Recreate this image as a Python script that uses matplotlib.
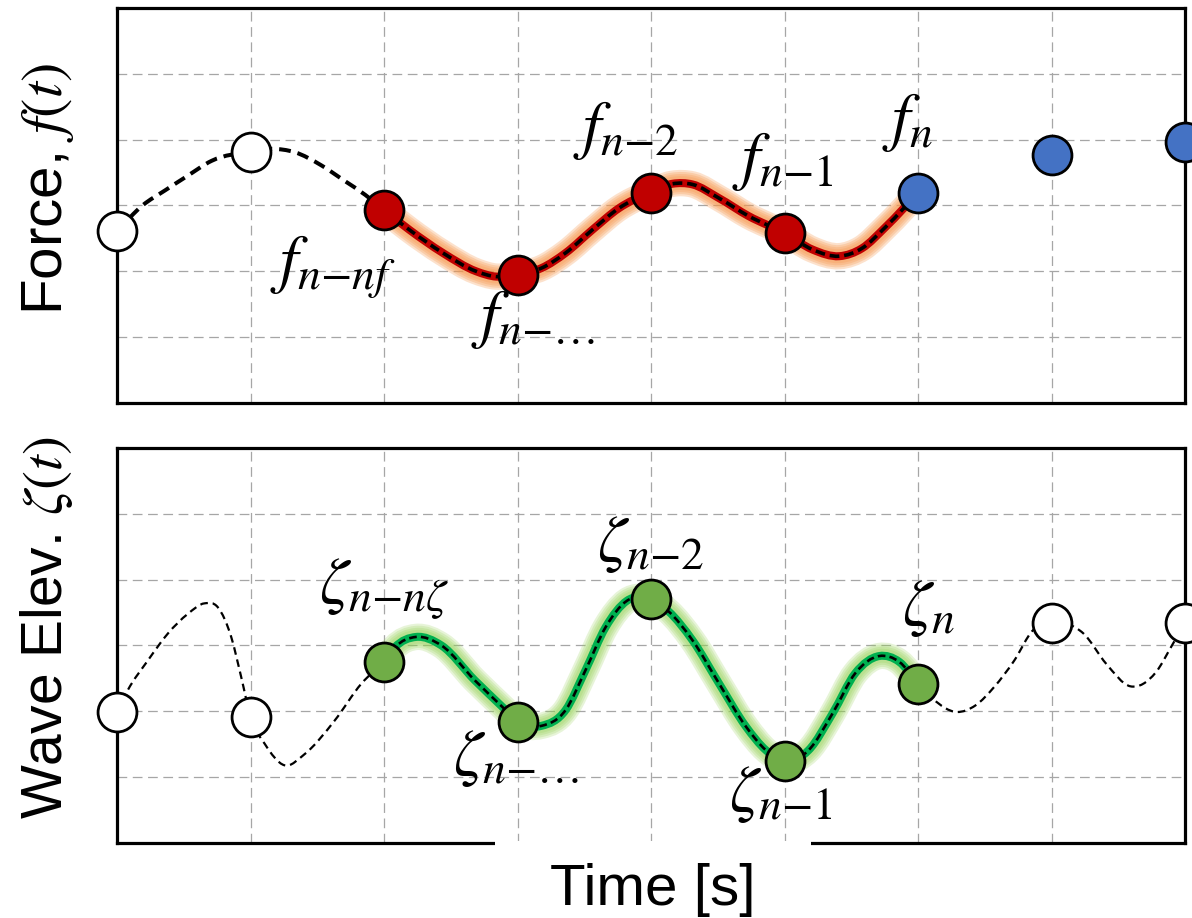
import numpy as np
import matplotlib
matplotlib.use("Agg")
import matplotlib.pyplot as plt
from matplotlib.path import Path
from matplotlib.patches import PathPatch, Rectangle

plt.rcParams['mathtext.fontset'] = 'stix'
plt.rcParams['lines.scale_dashes'] = False
label_font = ['Liberation Sans', 'DejaVu Sans']

# sample points (time step index)
steps = [0, 1, 2, 3, 4, 5, 6, 7, 8]
force_vals = [2.61, 3.82, 2.93, 1.95, 3.19, 2.58, 3.19, 3.77, 3.97]
force_colors = ['white', 'white', '#c00000', '#c00000', '#c00000', '#c00000',
                '#4472c4', '#4472c4', '#4472c4']
wave_vals = [1.99, 1.91, 2.75, 1.84, 3.70, 1.24, 2.42, 3.34, 3.34]
wave_colors = ['white', 'white', '#70ad47', '#70ad47', '#70ad47', '#70ad47',
               '#70ad47', 'white', 'white']

# traced curves
force_pre_x = [0, 0.19, 0.36, 0.52, 0.71, 1.0, 1.16, 1.33, 1.53, 1.70, 1.86, 2.0]
force_pre_y = [2.61, 3.0, 3.23, 3.44, 3.68, 3.82, 3.86, 3.81, 3.61, 3.38, 3.16, 2.93]
force_hist_x = [2.0, 2.19, 2.44, 2.69, 2.84, 2.98, 3.18, 3.36, 3.56, 3.76, 3.98,
                4.16, 4.31, 4.51, 4.73, 5.0, 5.21, 5.41, 5.58, 5.76, 6.0]
force_hist_y = [2.93, 2.63, 2.28, 2.0, 1.92, 1.95, 2.05, 2.28, 2.63, 2.96, 3.19,
                3.33, 3.32, 3.11, 2.84, 2.58, 2.33, 2.23, 2.35, 2.68, 3.19]

wave_pre_x = [0, 0.08, 0.23, 0.38, 0.53, 0.655, 0.755, 0.855, 0.93, 1.0,
              1.105, 1.255, 1.405, 1.63, 1.83, 2.0]
wave_pre_y = [1.99, 2.32, 2.77, 3.18, 3.48, 3.64, 3.58, 3.13, 2.52, 1.91,
              1.51, 1.18, 1.35, 1.86, 2.42, 2.75]
wave_hist_x = [2.0, 2.08, 2.24, 2.43, 2.68, 2.9, 3.0, 3.18, 3.36, 3.51, 3.66,
               3.82, 4.0, 4.13, 4.31, 4.51, 4.71, 4.86, 5.0, 5.18, 5.36, 5.53,
               5.71, 5.86, 6.0]
wave_hist_y = [2.75, 2.97, 3.13, 3.0, 2.47, 2.04, 1.84, 1.78, 2.02, 2.63, 3.28,
               3.68, 3.70, 3.52, 3.08, 2.42, 1.77, 1.41, 1.24, 1.41, 1.97, 2.58,
               2.84, 2.75, 2.42]
wave_post_x = [6.0, 6.11, 6.29, 6.43, 6.57, 6.72, 6.86, 7.0, 7.24, 7.41, 7.59,
               7.78, 7.91, 8.0]
wave_post_y = [2.42, 2.19, 1.99, 2.09, 2.37, 2.77, 3.23, 3.34, 3.18, 2.72, 2.38,
               2.59, 3.03, 3.34]

force_labels = [r'$f_{n{-}nf}$', r'$f_{n{-}\ldots}$', r'$f_{n{-}2}$', r'$f_{n{-}1}$', r'$f_n$']
force_label_pos = [(1.62, 2.07), (3.12, 1.28), (3.81, 4.14), (4.99, 3.67), (5.92, 4.27)]
wave_labels = [r'$\zeta_{n{-}n\zeta}$', r'$\zeta_{n{-}\ldots}$', r'$\zeta_{n{-}2}$',
               r'$\zeta_{n{-}1}$', r'$\zeta_n$']
wave_label_pos = [(2.0, 3.85), (2.99, 1.30), (4.0, 4.55), (4.97, 0.76), (6.08, 3.58)]


def smooth_path(xs, ys):
    # cubic hermite through the traced points, drawn as bezier segments
    x = np.asarray(xs, float)
    y = np.asarray(ys, float)
    m = np.gradient(y, x)
    verts = [(x[0], y[0])]
    codes = [Path.MOVETO]
    for i in range(len(x) - 1):
        h = x[i + 1] - x[i]
        verts += [(x[i] + h / 3, y[i] + m[i] * h / 3),
                  (x[i + 1] - h / 3, y[i + 1] - m[i + 1] * h / 3),
                  (x[i + 1], y[i + 1])]
        codes += [Path.CURVE4] * 3
    return Path(verts, codes)


def add_curve(ax, xs, ys, **kw):
    ax.add_patch(PathPatch(smooth_path(xs, ys), fill=False, capstyle='butt', **kw))


def glow_curve(ax, xs, ys, glow, alpha, line, dash_lw, dashes):
    for w in [19, 16, 13, 10]:
        add_curve(ax, xs, ys, edgecolor=glow, lw=w, alpha=alpha, zorder=3)
    add_curve(ax, xs, ys, edgecolor=line, lw=5.8, zorder=4)
    add_curve(ax, xs, ys, edgecolor='black', lw=dash_lw, linestyle=(0, dashes), zorder=5)


def style_axes(ax):
    ax.set_xlim(0, 8)
    ax.set_ylim(0, 6)
    ax.set_xticks(range(9))
    ax.set_yticks(range(7))
    ax.set_xticklabels([])
    ax.set_yticklabels([])
    ax.tick_params(length=0)
    ax.grid(True, color='#a6a6a6', lw=0.9, linestyle=(0, (7, 4)))
    ax.set_axisbelow(True)
    for s in ax.spines.values():
        s.set_linewidth(2.3)
        s.set_color('black')
        s.set_zorder(6)


fig = plt.figure(figsize=(11.92, 9.18), dpi=100)
ax1 = fig.add_axes([0.0982, 0.5610, 0.8960, 0.4303])
ax2 = fig.add_axes([0.0982, 0.0817, 0.8960, 0.4303])
style_axes(ax1)
style_axes(ax2)

# force panel
add_curve(ax1, force_pre_x, force_pre_y, edgecolor='black', lw=2.9,
          linestyle=(0, (8.5, 5)), zorder=4)
glow_curve(ax1, force_hist_x, force_hist_y, '#f7964a', 0.28, '#c00000', 2.6, (7, 3.5))
for xv, yv, c in zip(steps, force_vals, force_colors):
    ax1.plot(xv, yv, 'o', ms=28, mfc=c, mec='black', mew=2, clip_on=False, zorder=10)
for txt, (xv, yv) in zip(force_labels, force_label_pos):
    ax1.text(xv, yv, txt, fontsize=47, ha='center', va='center', zorder=11)

# wave elevation panel
add_curve(ax2, wave_pre_x, wave_pre_y, edgecolor='black', lw=1.6,
          linestyle=(0, (5.5, 3.5)), zorder=4)
add_curve(ax2, wave_post_x, wave_post_y, edgecolor='black', lw=1.6,
          linestyle=(0, (5.5, 3.5)), zorder=4)
glow_curve(ax2, wave_hist_x, wave_hist_y, '#92d050', 0.22, '#00b050', 1.9, (5.5, 3))
for xv, yv, c in zip(steps, wave_vals, wave_colors):
    ax2.plot(xv, yv, 'o', ms=28, mfc=c, mec='black', mew=2, clip_on=False, zorder=10)
for txt, (xv, yv) in zip(wave_labels, wave_label_pos):
    ax2.text(xv, yv, txt, fontsize=47, ha='center', va='center', zorder=11)

# axis labels
fig.text(47 / 1192, 1 - 189 / 918, r'Force, $f(t)$', rotation=90, ha='center',
         va='center', fontsize=42, family=label_font)
fig.text(47 / 1192, 1 - 627 / 918, r'Wave Elev. $\zeta(t)$', rotation=90,
         ha='center', va='center', fontsize=41, family=label_font)

# white box behind the x label (hides part of the bottom spine)
fig.add_artist(Rectangle((495 / 1192, 0), (811 - 495) / 1192, 77 / 918,
                         transform=fig.transFigure, facecolor='white',
                         edgecolor='none', zorder=20))
t = fig.text(653 / 1192, 1 - 905 / 918, 'Time [s]', ha='center', va='baseline',
             fontsize=42, family=label_font)
t.set_zorder(21)

fig.savefig('out.png', dpi=100)
